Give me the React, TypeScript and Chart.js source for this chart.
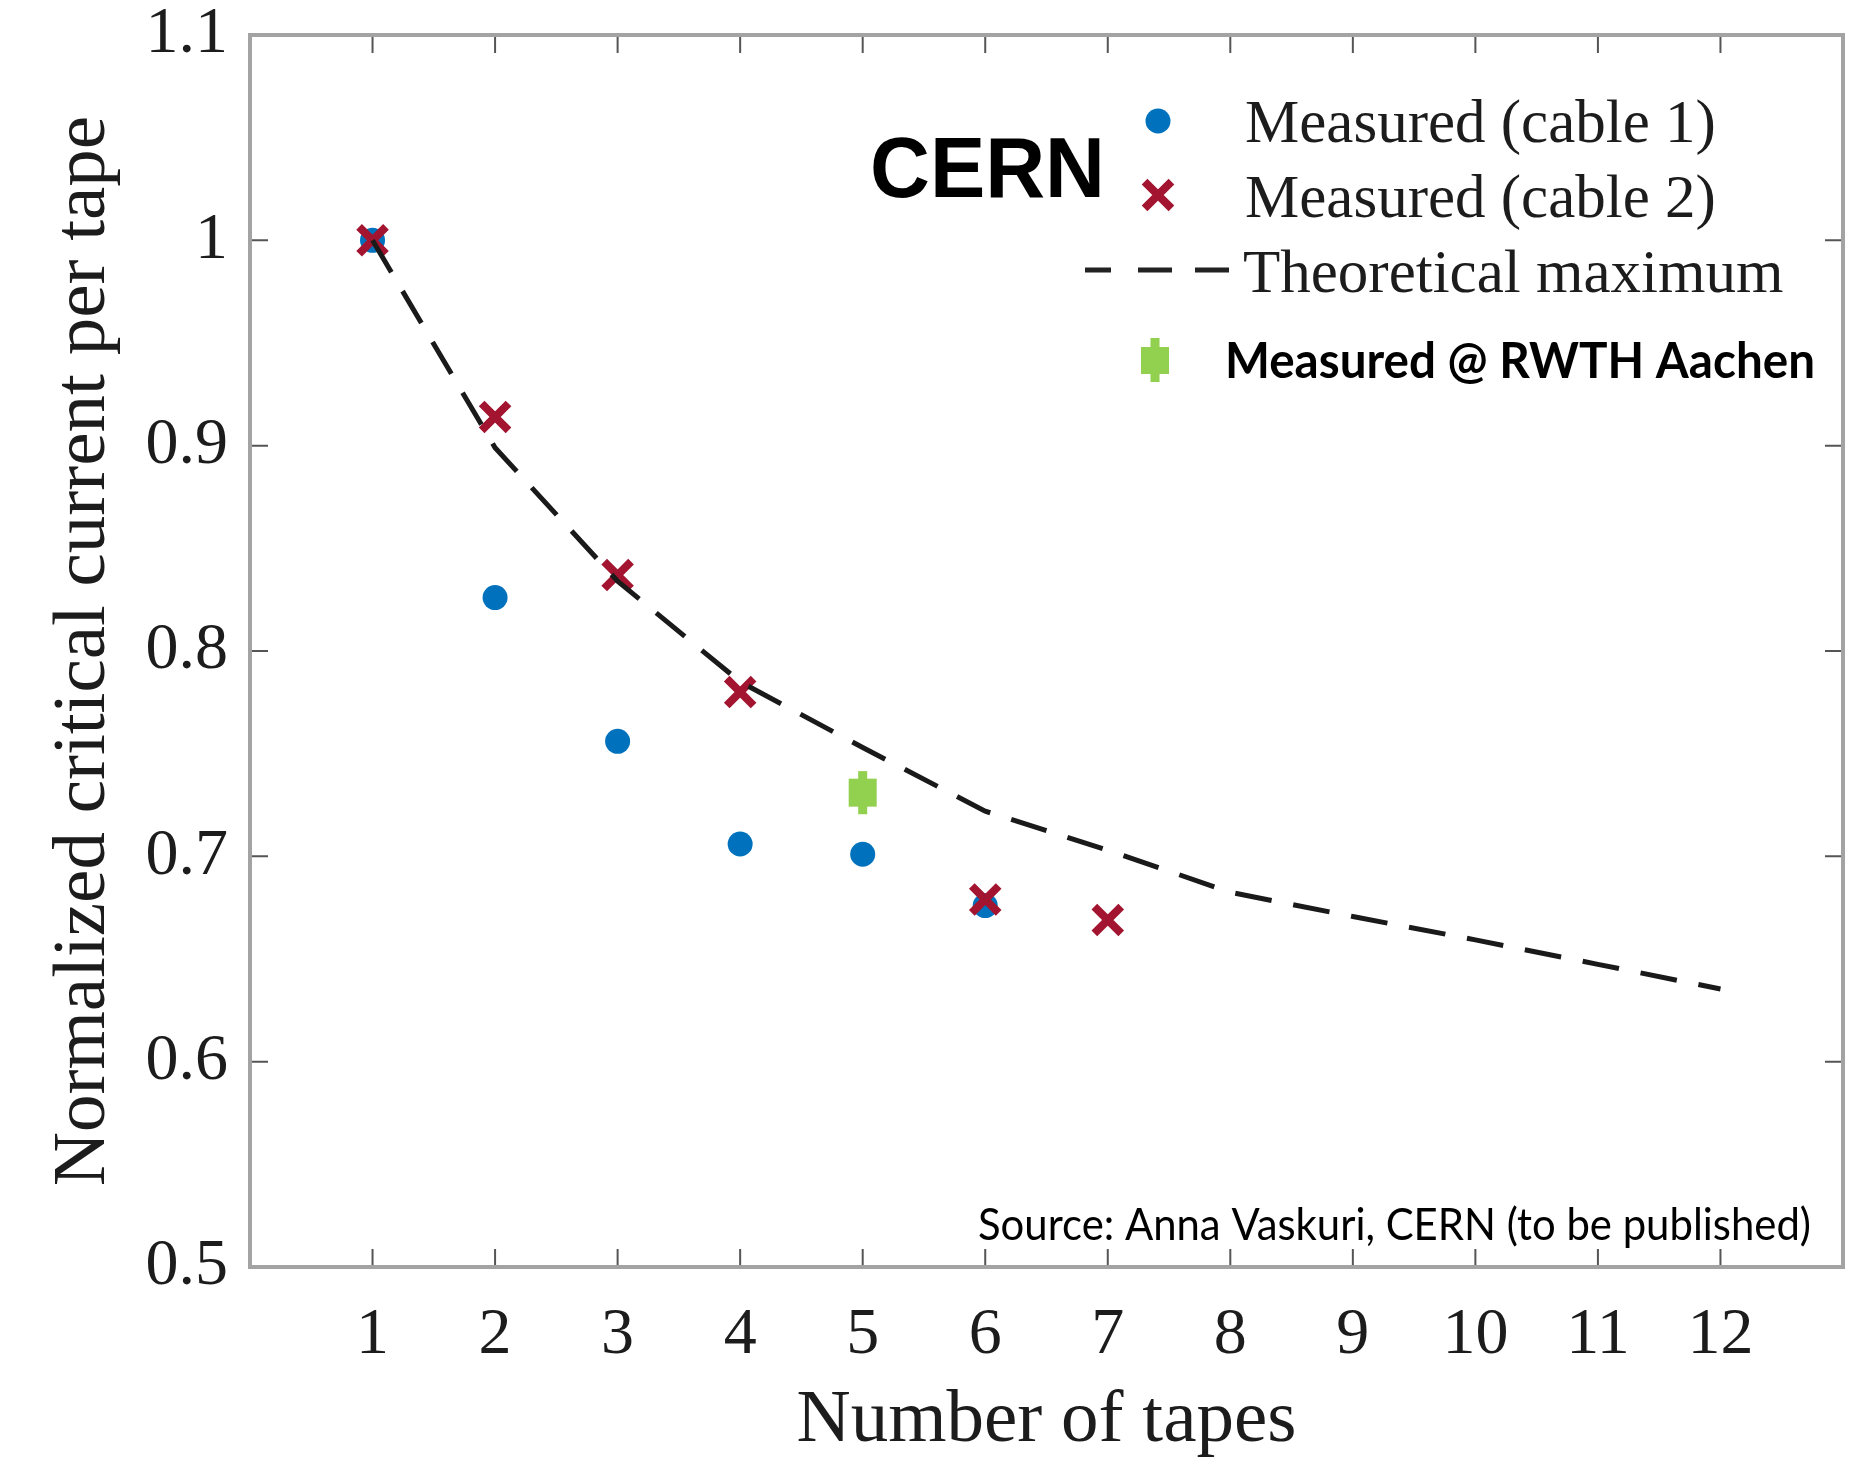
import React, { useEffect, useRef } from "react";
import { Chart, registerables } from "chart.js";

Chart.register(...registerables);

// ---------- data ----------
const tapeCounts = [1, 2, 3, 4, 5, 6, 7, 8, 9, 10, 11, 12];
const theoreticalMax = [1.0, 0.899, 0.834, 0.785, 0.753, 0.722, 0.703, 0.6825, 0.6707, 0.6593, 0.6474, 0.6354];

const cable1Tapes = [1, 2, 3, 4, 5, 6];
const cable1Values = [1.0, 0.826, 0.756, 0.706, 0.701, 0.676];

const cable2Tapes = [1, 2, 3, 4, 6, 7];
const cable2Values = [1.0, 0.914, 0.837, 0.78, 0.679, 0.669];

const rwthTapes = [5];
const rwthValues = [0.731];
const rwthErrors = [0.0105];

const xTickValues = [1, 2, 3, 4, 5, 6, 7, 8, 9, 10, 11, 12];
const yTickValues = [0.5, 0.6, 0.7, 0.8, 0.9, 1.0, 1.1];

const seriesLabels = [
  "Measured (cable 1)",
  "Measured (cable 2)",
  "Theoretical maximum",
  "Measured @ RWTH Aachen",
];
const cernLabel = "CERN";
const sourceNote = "Source: Anna Vaskuri, CERN (to be published)";
const xTitle = "Number of tapes";
const yTitle = "Normalized critical current per tape";

// ---------- styles ----------
const BLUE = "#0072BD";
const RED = "#A2142F";
const GREEN = "#92D050";
const TEXT = "#1c1c1c";
const SERIF = "'Liberation Serif', 'Times New Roman', serif";

function drawFittedText(
  ctx: CanvasRenderingContext2D,
  text: string,
  font: string,
  x: number,
  baseline: number,
  targetWidth: number
) {
  ctx.save();
  ctx.font = font;
  ctx.textAlign = "left";
  ctx.textBaseline = "alphabetic";
  const w = ctx.measureText(text).width;
  const sx = targetWidth / w;
  ctx.translate(x, baseline);
  ctx.scale(sx, 1);
  ctx.fillText(text, 0, 0);
  ctx.restore();
}

const frameAndTicks = {
  id: "frameAndTicks",
  afterDatasetsDraw(chart: any) {
    const { ctx, chartArea: a, scales } = chart;
    const xs = scales.x;
    const ys = scales.y;
    const len = 18;
    ctx.save();
    ctx.strokeStyle = "#555555";
    ctx.lineWidth = 2;
    ctx.beginPath();
    for (const v of xTickValues) {
      const px = xs.getPixelForValue(v);
      ctx.moveTo(px, a.bottom);
      ctx.lineTo(px, a.bottom - len);
      ctx.moveTo(px, a.top);
      ctx.lineTo(px, a.top + len);
    }
    for (const v of yTickValues) {
      if (v <= ys.min + 1e-9 || v >= ys.max - 1e-9) continue;
      const py = ys.getPixelForValue(v);
      ctx.moveTo(a.left, py);
      ctx.lineTo(a.left + len, py);
      ctx.moveTo(a.right, py);
      ctx.lineTo(a.right - len, py);
    }
    ctx.stroke();
    ctx.strokeStyle = "#a3a3a3";
    ctx.lineWidth = 4;
    ctx.strokeRect(a.left, a.top, a.right - a.left, a.bottom - a.top);
    ctx.restore();
  },
};

const legendAndNotes = {
  id: "legendAndNotes",
  afterDraw(chart: any) {
    const { ctx } = chart;
    ctx.save();

    // CERN label
    ctx.fillStyle = "#000";
    drawFittedText(ctx, cernLabel, "bold 85px 'Liberation Sans', Arial, sans-serif", 870, 197, 235);

    const mx = 1158;
    // blue circle
    ctx.fillStyle = BLUE;
    ctx.beginPath();
    ctx.arc(mx, 121, 12.5, 0, Math.PI * 2);
    ctx.fill();

    // red x
    const r = 19 * Math.SQRT1_2;
    ctx.strokeStyle = RED;
    ctx.lineWidth = 8;
    ctx.beginPath();
    ctx.moveTo(mx - r, 195 - r);
    ctx.lineTo(mx + r, 195 + r);
    ctx.moveTo(mx - r, 195 + r);
    ctx.lineTo(mx + r, 195 - r);
    ctx.stroke();

    // dashed line sample
    ctx.strokeStyle = "#222";
    ctx.lineWidth = 5;
    ctx.beginPath();
    for (const [a, b] of [
      [1085, 1111],
      [1138, 1172],
      [1195, 1229],
    ]) {
      ctx.moveTo(a, 270);
      ctx.lineTo(b, 270);
    }
    ctx.stroke();

    // green marker
    ctx.fillStyle = GREEN;
    ctx.fillRect(1141, 347, 28, 27);
    ctx.fillRect(1150.5, 338, 9, 44);

    // serif legend text
    ctx.fillStyle = TEXT;
    ctx.font = `61px ${SERIF}`;
    ctx.textAlign = "left";
    ctx.textBaseline = "alphabetic";
    ctx.fillText(seriesLabels[0], 1245, 142);
    ctx.fillText(seriesLabels[1], 1245, 217);
    ctx.fillText(seriesLabels[2], 1243, 292);

    // bold sans label
    ctx.fillStyle = "#000";
    drawFittedText(ctx, seriesLabels[3], "bold 49px Lato, 'Open Sans', sans-serif", 1225, 378, 590);

    // source note
    drawFittedText(ctx, sourceNote, "45px Lato, 'Open Sans', sans-serif", 978, 1240, 833);

    ctx.restore();
  },
};

export default function App() {
  const ref = useRef<HTMLCanvasElement>(null);

  useEffect(() => {
    const canvas = ref.current;
    if (!canvas) return;

    const theoryData = tapeCounts.map((x, i) => ({ x, y: theoreticalMax[i] }));
    const c1Data = cable1Tapes.map((x, i) => ({ x, y: cable1Values[i] }));
    const c2Data = cable2Tapes.map((x, i) => ({ x, y: cable2Values[i] }));
    const rwthData = rwthTapes.map((x, i) => ({ x, y: rwthValues[i] }));
    const errDatasets = rwthTapes.map((x, i) => ({
      label: "err",
      data: [
        { x, y: rwthValues[i] - rwthErrors[i] },
        { x, y: rwthValues[i] + rwthErrors[i] },
      ],
      showLine: true,
      borderColor: GREEN,
      backgroundColor: GREEN,
      borderWidth: 9,
      pointRadius: 0,
      order: 4,
    }));

    const chart = new Chart(canvas, {
      type: "scatter",
      data: {
        datasets: [
          {
            label: seriesLabels[2],
            data: theoryData,
            showLine: true,
            borderColor: "#1a1a1a",
            borderWidth: 5,
            borderDash: [37, 22],
            pointRadius: 0,
            tension: 0,
            order: 0,
          } as any,
          {
            label: seriesLabels[1],
            data: c2Data,
            pointStyle: "crossRot",
            pointRadius: 19,
            borderColor: RED,
            backgroundColor: RED,
            pointBorderWidth: 8,
            borderWidth: 8,
            order: 1,
          },
          {
            label: seriesLabels[0],
            data: c1Data,
            pointStyle: "circle",
            pointRadius: 12.5,
            backgroundColor: BLUE,
            borderColor: BLUE,
            pointBorderWidth: 0,
            borderWidth: 0,
            order: 2,
          },
          {
            label: seriesLabels[3],
            data: rwthData,
            pointStyle: "rect",
            pointRadius: 19.8,
            backgroundColor: GREEN,
            borderColor: GREEN,
            pointBorderWidth: 0,
            borderWidth: 0,
            order: 3,
          },
          ...errDatasets,
        ],
      },
      options: {
        responsive: false,
        animation: false,
        events: [],
        layout: { autoPadding: false, padding: { top: 35, right: 7, left: 0, bottom: 0 } },
        plugins: {
          legend: { display: false },
          tooltip: { enabled: false },
        },
        scales: {
          x: {
            type: "linear",
            min: 0,
            max: 13,
            grid: { display: false, drawTicks: false },
            border: { display: false },
            afterBuildTicks: (s: any) => {
              s.ticks = xTickValues.map((v) => ({ value: v }));
            },
            afterFit: (s: any) => {
              s.height = 197;
              s.paddingLeft = 0;
              s.paddingRight = 0;
            },
            ticks: {
              autoSkip: false,
              maxRotation: 0,
              padding: 29,
              color: TEXT,
              font: { family: SERIF, size: 66 },
              callback: (v: any) => String(v),
            },
            title: {
              display: true,
              text: xTitle,
              color: TEXT,
              font: { family: SERIF, size: 75, lineHeight: 1 },
              padding: { top: 0, bottom: 5 },
            },
          },
          y: {
            type: "linear",
            min: 0.5,
            max: 1.1,
            grid: { display: false, drawTicks: false },
            border: { display: false },
            afterBuildTicks: (s: any) => {
              s.ticks = yTickValues.map((v) => ({ value: v }));
            },
            afterFit: (s: any) => {
              s.width = 250;
              s.paddingTop = 0;
              s.paddingBottom = 0;
            },
            ticks: {
              autoSkip: false,
              padding: 22,
              color: TEXT,
              font: { family: SERIF, size: 66 },
              callback: (v: any) => String(Number(Number(v).toFixed(1))),
            },
            title: {
              display: true,
              text: yTitle,
              color: TEXT,
              font: { family: SERIF, size: 75, lineHeight: 1 },
              padding: { top: 47, bottom: 0 },
            },
          },
        },
      },
      plugins: [frameAndTicks, legendAndNotes],
    } as any);

    return () => chart.destroy();
  }, []);

  return (
    <div style={{ position: "absolute", left: 0, top: 0, width: 1850, height: 1464, background: "#fff" }}>
      <canvas ref={ref} width={1850} height={1464} style={{ display: "block" }} />
    </div>
  );
}
